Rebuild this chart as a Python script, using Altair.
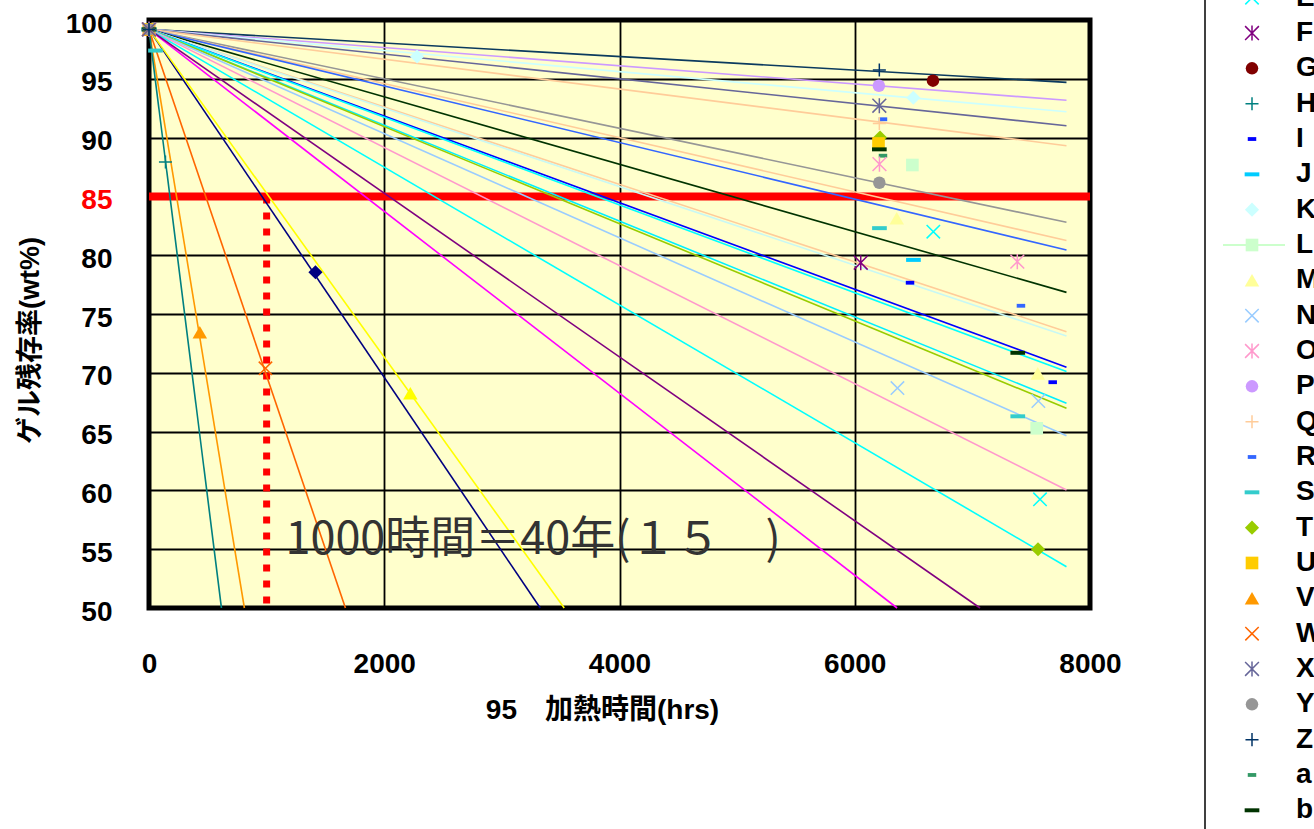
import altair as alt
import pandas as pd

# ---------------- data ----------------
series = ["B", "C", "D", "E", "F", "G", "H", "I", "J", "K", "L", "M", "N", "O",
          "P", "Q", "R", "S", "T", "U", "V", "W", "X", "Y", "Z", "a", "b"]
series_colors = ["#000080", "#FF00FF", "#FFFF00", "#00FFFF", "#800080", "#800000",
                 "#008080", "#0000FF", "#00CCFF", "#CCFFFF", "#CCFFCC", "#FFFF99",
                 "#99CCFF", "#FF99CC", "#CC99FF", "#FFCC99", "#3366FF", "#33CCCC",
                 "#99CC00", "#FFCC00", "#FF9900", "#FF6600", "#666699", "#969696",
                 "#003366", "#339966", "#003300"]
series_markers = ["diamond", "square", "triangle", "x", "star", "circle", "plus",
                  "dash", "longdash", "diamond", "square", "triangle", "x", "star",
                  "circle", "plus", "dash", "longdash", "diamond", "square",
                  "triangle", "x", "star", "circle", "plus", "dash", "longdash"]

start_hours = 0
start_value = 99.2

pt_series = ["S", "B", "D", "E", "E", "F", "G", "H", "I", "I", "J", "K", "K", "L", "L",
             "M", "M", "N", "N", "O", "O", "P", "Q", "R", "R", "S", "S", "T", "T",
             "U", "V", "W", "X", "Y", "Z", "a", "b", "b"]
pt_hours = [55, 1415, 2222, 6668, 7575, 6051, 6665, 140, 6470, 7683, 6499, 2279, 6498,
            6490, 7547, 6357, 7556, 6363, 7561, 6210, 7382, 6205, 6209, 6240, 7413,
            6210, 7386, 6215, 7558, 6202, 432, 990, 6209, 6209, 6209, 6240, 6209, 7386]
pt_value = [97.4, 78.55, 68.26, 82.0, 59.24, 79.36, 94.84, 87.93, 77.66, 69.2, 79.6,
            96.9, 93.39, 87.67, 65.28, 83.14, 69.95, 68.7, 67.6, 87.75, 79.45, 94.41,
            91.2, 91.56, 75.7, 82.3, 66.3, 90.0, 55.0, 89.5, 73.44, 70.38, 92.71,
            86.16, 95.75, 88.46, 89.0, 71.7]

trend_series = ["Z", "P", "K", "X", "Q", "Y", "U", "R", "b", "M", "L", "I", "E", "J",
                "T", "N", "O", "S", "B", "C", "D", "F", "W", "V", "H"]
trend_end_hours = [7800, 7800, 7800, 7800, 7800, 7800, 7800, 7800, 7800, 7800, 7800,
                   7800, 7800, 7800, 7800, 7800, 7800, 7800, 3326, 6360, 3530, 7065,
                   1670, 811, 616]
trend_end_value = [94.70, 93.17, 92.20, 91.01, 89.31, 82.80, 81.25, 80.44, 76.84,
                   73.50, 73.13, 70.47, 70.10, 67.41, 66.98, 64.65, 60.03, 53.51,
                   50, 50, 50, 50, 50, 50, 50]
trend_colors = ["#0B3A5E", "#CC99FF", "#CCFFFF", "#666699", "#FFCC99", "#969696",
                "#FFCC99", "#3366FF", "#003300", "#FFCC99", "#C8F8F4", "#0000FF",
                "#00FFFF", "#00F0FF", "#99CC00", "#99CCFF", "#FF99CC", "#00FFFF",
                "#000080", "#FF00FF", "#FFFF00", "#800080", "#FF6600", "#FF9900",
                "#008080"]

limit_value = [85]
limit_hours = [1000]
axis_min = 50
note_hours = [1160]
note_value = [55.8]
note_text = ["1000時間＝40年(１５　)"]

x_ticks = [0, 2000, 4000, 6000, 8000]
y_ticks = [50, 55, 60, 65, 70, 75, 80, 85, 90, 95, 100]

# ---------------- styles ----------------
MARKER_STYLE = {
    "diamond": ("diamond", True, 200),
    "square": ("square", True, 160),
    "triangle": ("triangle-up", True, 210),
    "x": ("M-1,-1L1,1M-1,1L1,-1", False, 180),
    "star": ("M-1,-1L1,1M-1,1L1,-1M0,-1.1L0,1.1", False, 190),
    "circle": ("circle", True, 156),
    "plus": ("M-1,0L1,0M0,-1L0,1", False, 170),
    "dash": ("M-1,-0.45H1V0.45H-1Z", True, 72),
    "longdash": ("M-1,-0.27H1V0.27H-1Z", True, 216),
}
LABEL_FONT = "Liberation Sans"
JP_FONT = "Liberation Sans, Noto Sans CJK JP"

color_of = dict(zip(series, series_colors))
marker_of = dict(zip(series, series_markers))
order_of = {s: i for i, s in enumerate(series)}

# ---------------- tables ----------------
pts = [dict(series=s, hours=start_hours, value=start_value) for s in series]
pts += [dict(series=s, hours=h, value=v) for s, h, v in zip(pt_series, pt_hours, pt_value)]
pts_df = pd.DataFrame(pts)
pts_df["color"] = pts_df["series"].map(color_of)
pts_df["shape"] = pts_df["series"].map(lambda s: MARKER_STYLE[marker_of[s]][0])
pts_df["filled"] = pts_df["series"].map(lambda s: MARKER_STYLE[marker_of[s]][1])
pts_df["size"] = pts_df["series"].map(lambda s: MARKER_STYLE[marker_of[s]][2])
pts_df["order"] = pts_df["series"].map(order_of)
pts_df = pts_df.sort_values("order", kind="stable")

trend_rows = []
for i, (s, eh, ev, c) in enumerate(zip(trend_series, trend_end_hours, trend_end_value, trend_colors)):
    trend_rows.append(dict(tid=i, series=s, hours=start_hours, value=start_value, color=c))
    trend_rows.append(dict(tid=i, series=s, hours=eh, value=ev, color=c))
trend_df = pd.DataFrame(trend_rows)

leg_df = pd.DataFrame({"series": series})
leg_df["color"] = leg_df["series"].map(color_of)
leg_df["shape"] = leg_df["series"].map(lambda s: MARKER_STYLE[marker_of[s]][0])
leg_df["filled"] = leg_df["series"].map(lambda s: MARKER_STYLE[marker_of[s]][1])
leg_df["size"] = leg_df["series"].map(lambda s: MARKER_STYLE[marker_of[s]][2])

# ---------------- scales / axes ----------------
xs = alt.Scale(domain=[0, 8000], nice=False, zero=False)
ys = alt.Scale(domain=[50, 100], nice=False, zero=False)

x_axis = alt.Axis(values=x_ticks, format="d", grid=True, gridColor="black", gridWidth=1.8,
                  domain=False, ticks=False, tickSize=0, labelFlush=False,
                  labelFont=LABEL_FONT, labelFontSize=28, labelFontWeight="bold",
                  labelColor="black", labelPadding=42, labelOverlap=False,
                  title="95　加熱時間(hrs)", titleFont=JP_FONT, titleFontSize=28,
                  titleFontWeight="bold", titleColor="black", titleX=453, titleY=102,
                  titleBaseline="middle", titleAlign="center")
y_axis = alt.Axis(values=y_ticks, grid=True, gridColor="black", gridWidth=1.8,
                  domain=False, ticks=False, tickSize=0, labelFlush=False,
                  labelFont=LABEL_FONT, labelFontSize=28, labelFontWeight="bold",
                  labelColor={"condition": {"test": "datum.value == 85", "value": "#FF0000"},
                              "value": "black"},
                  labelPadding=37, labelOffset=4, labelOverlap=False,
                  title="ゲル残存率(wt%)", titleFont=JP_FONT, titleFontSize=27,
                  titleFontWeight="bold", titleColor="black", titleX=-119, titleY=320,
                  titleBaseline="middle", titleAlign="center", titleAngle=270)

X = alt.X("hours:Q", scale=xs, axis=x_axis)
Y = alt.Y("value:Q", scale=ys, axis=y_axis)

# ---------------- main layers ----------------
red_line = alt.Chart(pd.DataFrame({"value": limit_value})).mark_rule(
    color="#FF0000", strokeWidth=8).encode(y=Y)

dotted = alt.Chart(pd.DataFrame({"hours": limit_hours, "value": limit_value,
                                 "bottom": [axis_min]})).mark_rule(
    color="#FF0000", strokeWidth=7, strokeDash=[7, 9], strokeCap="butt").encode(
    x=X, y=Y, y2="bottom:Q")

trends = alt.Chart(trend_df).mark_line(strokeWidth=1.6).encode(
    x=X, y=Y, detail="tid:N", color=alt.Color("color:N", scale=None))

filled_pts = alt.Chart(pts_df[pts_df["filled"]]).mark_point(filled=True, opacity=1).encode(
    x=X, y=Y, shape=alt.Shape("shape:N", scale=None),
    color=alt.Color("color:N", scale=None), size=alt.Size("size:Q", scale=None))

stroked_pts = alt.Chart(pts_df[~pts_df["filled"]]).mark_point(
    filled=False, opacity=1, strokeWidth=1.5).encode(
    x=X, y=Y, shape=alt.Shape("shape:N", scale=None),
    color=alt.Color("color:N", scale=None), size=alt.Size("size:Q", scale=None))

note = alt.Chart(pd.DataFrame({"hours": note_hours, "value": note_value,
                               "text": note_text})).mark_text(
    align="left", baseline="middle", font="Noto Sans CJK JP", fontSize=45,
    color="#333333").encode(x=X, y=Y, text="text:N")

main = alt.layer(red_line, dotted, trends, filled_pts, stroked_pts, note)

# ---------------- legend (right side, partly outside the window) ----------------
LY = alt.Y("series:N", scale=alt.Scale(type="point", domain=series,
                                       range=[-128.3, 790.3], padding=0), axis=None)

leg_border = alt.Chart(pd.DataFrame({"series": ["E"]})).mark_rule(
    color="black", strokeWidth=1.5).encode(
    x=alt.value(1056), y=alt.value(-40), y2=alt.value(860))

leg_line = alt.Chart(leg_df[leg_df["series"] == "L"]).mark_rule(
    strokeWidth=2).encode(x=alt.value(1074), x2=alt.value(1136), y=LY,
                          color=alt.Color("color:N", scale=None))

leg_filled = alt.Chart(leg_df[leg_df["filled"]]).mark_point(filled=True, opacity=1).encode(
    x=alt.value(1103), y=LY, shape=alt.Shape("shape:N", scale=None),
    color=alt.Color("color:N", scale=None), size=alt.Size("size:Q", scale=None))

leg_stroked = alt.Chart(leg_df[~leg_df["filled"]]).mark_point(
    filled=False, opacity=1, strokeWidth=1.5).encode(
    x=alt.value(1103), y=LY, shape=alt.Shape("shape:N", scale=None),
    color=alt.Color("color:N", scale=None), size=alt.Size("size:Q", scale=None))

leg_text = alt.Chart(leg_df).mark_text(
    align="left", baseline="middle", font=LABEL_FONT, fontSize=28,
    fontWeight="bold", color="black").encode(x=alt.value(1147), y=LY, text="series:N")

legend = alt.layer(leg_border, leg_line, leg_filled, leg_stroked, leg_text)

chart = alt.layer(main, legend).resolve_scale(y="independent").properties(
    width=941, height=588,
    autosize=alt.AutoSizeParams(type="none"),
    padding={"left": 149, "top": 20, "right": 224, "bottom": 221},
    background="white",
).configure_view(fill="#FFFFCC", stroke="black", strokeWidth=5)

chart.save("out.html", embed_options={"renderer": "svg", "actions": False})
